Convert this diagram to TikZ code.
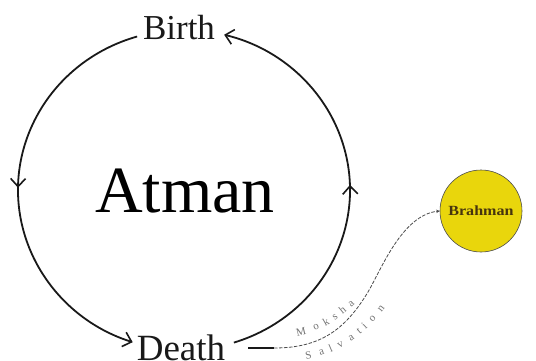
\documentclass[tikz,border=0pt]{standalone}
\usepackage{fontspec}
\setmainfont{Liberation Serif}
\usetikzlibrary{arrows.meta,decorations.markings,decorations.text,calc}
\definecolor{brahmanyellow}{RGB}{233,214,12}
\definecolor{brahmantext}{RGB}{70,52,14}
\definecolor{linegray}{RGB}{25,25,25}
\definecolor{mokshagray}{RGB}{75,75,75}
\definecolor{mokshatext}{RGB}{115,115,115}
\tikzset{
  cyclearc/.style={draw=linegray, line width=1.8pt,
    -{Straight Barb[length=8pt,width=15pt,line width=1.6pt]},
    postaction={decorate},
    decoration={markings, mark=at position 0.5 with {\arrow{Straight Barb[length=8pt,width=15pt,line width=1.6pt]}}}},
  lbl/.style={font=\fontsize{35}{35}\selectfont, text=linegray, inner sep=0pt, anchor=base},
  moksha/.style={draw=mokshagray, line width=0.8pt, dash pattern=on 3.5pt off 1.5pt},
  curvetext/.style={font=\fontsize{11}{11}\selectfont, text=mokshatext, decorate,
    decoration={text effects along path, text={#1},
    text effects/.cd, text along path, fit text to path,
    characters={font=\fontsize{11}{11}\selectfont, text=mokshatext}}}
}
\begin{document}
\begin{tikzpicture}[x=1pt,y=-1pt]
\useasboundingbox (0,0) rectangle (536,361);
% labels
\node[lbl] (birth) at (179,40) {Birth};
\node[lbl, font=\fontsize{37}{37}\selectfont] (death) at (181,360) {Death};
\node[lbl, font=\fontsize{66}{66}\selectfont, text=black] (atman) at (185,212) {Atman};
% Brahman
\node[circle, minimum size=82pt, inner sep=0pt, fill=brahmanyellow, draw=gray!60!black, line width=0.6pt] (brahman) at (481,211) {};
\node[font=\bfseries\fontsize{14}{14}\selectfont, text=brahmantext, xscale=1.15] (brahmanlabel) at (brahman.center) {Brahman};
% cycle
\coordinate (c) at (184,190);
\draw[cyclearc] ($(c)+(253.6:166 and 160)$) arc[start angle=253.6, end angle=108, x radius=166, y radius=160];
\draw[cyclearc] ($(c)+(72.5:166 and 160)$) arc[start angle=72.5, end angle=-76, x radius=166, y radius=160];
% moksha path
\coordinate (m0) at (248,348);
\coordinate (m1) at (274,348);
\coordinate (m2) at (368,292);
\coordinate (m3) at (brahman.west);
\draw[linegray, line width=1.2pt] (m0) -- (m1);
\draw[moksha, -{Stealth[length=3.5pt,width=3.5pt]}] (m1) .. controls (320,348) and (345,330) .. (m2)
  .. controls (381,270) and (402,215) .. (m3);
\path[curvetext={Moksha}] (297,336) .. controls (318,332) and (336,322) .. (355,304);
\path[curvetext={Salvation}] (306,359) .. controls (335,354) and (362,339) .. (385,308);
\end{tikzpicture}
\end{document}
